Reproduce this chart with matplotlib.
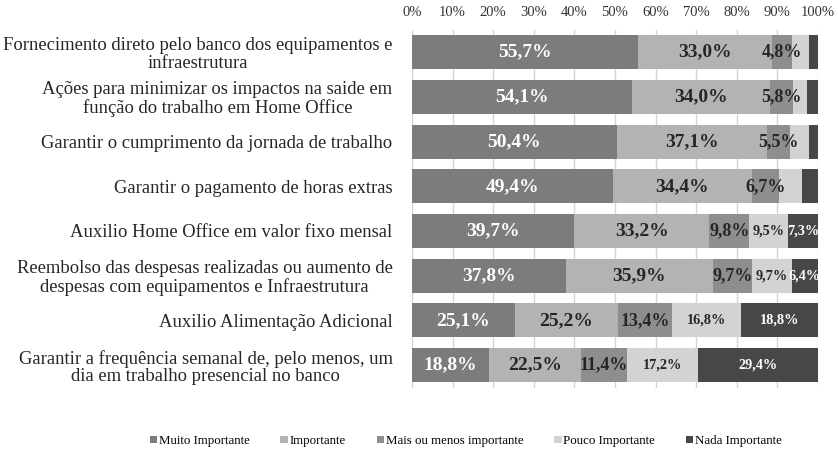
import numpy as np
import matplotlib
matplotlib.use("Agg")
import matplotlib.pyplot as plt

plt.rcParams['font.family'] = ['Liberation Serif', 'DejaVu Serif']

categorias = [
    "Fornecimento direto pelo banco dos equipamentos e\ninfraestrutura",
    "Ações para minimizar os impactos na saide em\nfunção do trabalho em Home Office",
    "Garantir o cumprimento da jornada de trabalho",
    "Garantir o pagamento de horas extras",
    "Auxilio Home Office em valor fixo mensal",
    "Reembolso das despesas realizadas ou aumento de\ndespesas com equipamentos e Infraestrutura",
    "Auxilio Alimentação Adicional",
    "Garantir a frequência semanal de, pelo menos, um\ndia em trabalho presencial no banco",
]

series = ["Muito Importante", "Importante", "Mais ou menos importante",
          "Pouco Importante", "Nada Importante"]

muito = [55.7, 54.1, 50.4, 49.4, 39.7, 37.8, 25.1, 18.8]
importante = [33.0, 34.0, 37.1, 34.4, 33.2, 35.9, 25.2, 22.5]
mais_menos = [4.8, 5.8, 5.5, 6.7, 9.8, 9.7, 13.4, 11.4]
pouco = [4.3, 3.4, 4.8, 5.5, 9.5, 9.7, 16.8, 17.2]
nada = [2.2, 2.7, 2.2, 4.0, 7.3, 6.4, 18.8, 29.4]

# which values get a printed label (the tiny ones on top rows have none)
show_pouco = [False, False, False, False, True, True, True, True]
show_nada = [False, False, False, False, True, True, True, True]

cores = ["#7c7c7c", "#b3b3b3", "#8e8e8e", "#d3d3d3", "#474747"]
cor_texto = ["white", "#262626", "#262626", "#262626", "white"]
tam_texto = [14, 14, 13, 10.3, 10.3]

dados = np.array([muito, importante, mais_menos, pouco, nada])
mostrar = np.array([[True] * 8, [True] * 8, [True] * 8, show_pouco, show_nada])
totais = dados.sum(axis=0)
perc = dados / totais * 100

fig = plt.figure(figsize=(8.38, 4.57), dpi=100)
ax = fig.add_axes([0.4916, 0.152, 0.4845, 0.783])

y = np.arange(len(categorias))
esq = np.zeros(len(categorias))
for i, nome in enumerate(series):
    ax.barh(y, perc[i], left=esq, height=0.76, color=cores[i], label=nome, zorder=2)
    for j in range(len(categorias)):
        if mostrar[i, j]:
            txt = f"{dados[i, j]:.1f}%".replace(".", ",")
            ax.text(esq[j] + perc[i, j] / 2, y[j], txt, ha="center", va="center",
                    color=cor_texto[i], fontsize=tam_texto[i], fontweight="bold", zorder=3)
    esq += perc[i]

ax.set_xlim(0, 100)
ax.set_ylim(len(categorias) - 0.5, -0.5)
ax.set_xticks(np.arange(0, 101, 10))
ax.set_xticklabels([f"{v}%" for v in range(0, 101, 10)], fontsize=10.5, color="#333333")
ax.xaxis.tick_top()
ax.tick_params(axis="x", length=0, pad=8)
ax.set_yticks(y)
ax.set_yticklabels(categorias, fontsize=13.4, color="#262626", multialignment="center",
                   linespacing=1.05)
ax.tick_params(axis="y", length=0, pad=14)
ax.grid(axis="x", color="#d4d4d4", linewidth=1, zorder=0)
for s in ax.spines.values():
    s.set_visible(False)

fig.legend(loc="center", bbox_to_anchor=(0.556, 0.035), ncol=5, frameon=False,
           fontsize=9.3, handlelength=0.55, handleheight=0.55, handletextpad=0.15,
           columnspacing=2.4)

fig.savefig("out.png", dpi=100)
